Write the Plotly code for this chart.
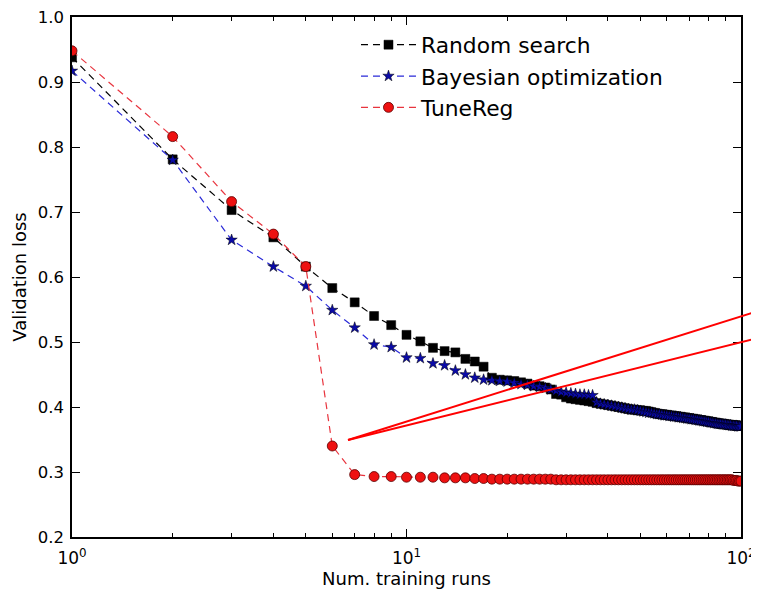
import plotly.graph_objects as go

runs = list(range(1, 101))

random_search = [
    0.938, 0.781, 0.703, 0.661, 0.616, 0.583, 0.561, 0.540, 0.526, 0.511,
    0.501, 0.491, 0.486, 0.484, 0.474, 0.470, 0.462, 0.445, 0.442, 0.441,
    0.440, 0.438, 0.436, 0.433, 0.432, 0.430, 0.427, 0.420, 0.419, 0.415,
    0.413, 0.412, 0.411, 0.410, 0.409, 0.408, 0.406, 0.405, 0.404, 0.403,
    0.402, 0.401, 0.400, 0.399, 0.398, 0.397, 0.396, 0.396, 0.395, 0.395,
    0.394, 0.394, 0.393, 0.392, 0.391, 0.390, 0.389, 0.389, 0.388, 0.388,
    0.387, 0.387, 0.386, 0.386, 0.385, 0.385, 0.384, 0.384, 0.383, 0.383,
    0.382, 0.382, 0.381, 0.381, 0.380, 0.380, 0.379, 0.379, 0.378, 0.378,
    0.377, 0.377, 0.376, 0.376, 0.375, 0.375, 0.374, 0.374, 0.374, 0.373,
    0.373, 0.373, 0.372, 0.372, 0.372, 0.372, 0.371, 0.371, 0.371, 0.371,
]

bayesian_opt = [
    0.917, 0.780, 0.657, 0.616, 0.586, 0.549, 0.522, 0.496, 0.492, 0.476,
    0.475, 0.467, 0.464, 0.456, 0.450, 0.445, 0.442, 0.441, 0.440, 0.439,
    0.437, 0.435, 0.434, 0.432, 0.431, 0.429, 0.427, 0.425, 0.423, 0.422,
    0.421, 0.420, 0.419, 0.419, 0.418, 0.418, 0.407, 0.405, 0.404, 0.403,
    0.402, 0.401, 0.400, 0.399, 0.398, 0.397, 0.396, 0.396, 0.395, 0.394,
    0.393, 0.392, 0.391, 0.391, 0.390, 0.389, 0.389, 0.388, 0.387, 0.387,
    0.386, 0.386, 0.385, 0.385, 0.384, 0.384, 0.383, 0.383, 0.382, 0.382,
    0.381, 0.381, 0.380, 0.380, 0.379, 0.379, 0.378, 0.378, 0.377, 0.377,
    0.376, 0.376, 0.375, 0.375, 0.374, 0.374, 0.374, 0.373, 0.373, 0.373,
    0.372, 0.372, 0.372, 0.371, 0.371, 0.371, 0.371, 0.370, 0.370, 0.370,
]

tunereg = [
    0.948, 0.816, 0.716, 0.666, 0.616, 0.340, 0.296, 0.293, 0.293, 0.292,
    0.292, 0.292, 0.291, 0.291, 0.291, 0.290, 0.290, 0.289, 0.289, 0.289,
    0.289, 0.289, 0.289, 0.289, 0.289, 0.289, 0.289, 0.288, 0.288, 0.288,
    0.288, 0.288, 0.288, 0.288, 0.288, 0.288, 0.288, 0.288, 0.288, 0.288,
    0.288, 0.288, 0.288, 0.288, 0.288, 0.288, 0.288, 0.288, 0.288, 0.288,
    0.288, 0.288, 0.288, 0.288, 0.288, 0.288, 0.288, 0.288, 0.288, 0.288,
    0.288, 0.288, 0.288, 0.288, 0.288, 0.288, 0.288, 0.288, 0.288, 0.288,
    0.288, 0.288, 0.288, 0.288, 0.288, 0.288, 0.288, 0.288, 0.288, 0.288,
    0.288, 0.288, 0.288, 0.288, 0.288, 0.288, 0.288, 0.288, 0.288, 0.288,
    0.288, 0.288, 0.288, 0.288, 0.287, 0.287, 0.287, 0.286, 0.286, 0.286,
]

x_tick_vals = [1, 10, 100]
x_tick_text = ["10<sup>0</sup>", "10<sup>1</sup>", "10<sup>2</sup>"]
y_tick_vals = [0.2, 0.3, 0.4, 0.5, 0.6, 0.7, 0.8, 0.9, 1.0]
y_tick_text = ["0.2", "0.3", "0.4", "0.5", "0.6", "0.7", "0.8", "0.9", "1.0"]
minor_x = [2, 3, 4, 5, 6, 7, 8, 9, 20, 30, 40, 50, 60, 70, 80, 90]

FONT = "DejaVu Sans"

fig = go.Figure()
fig.add_trace(go.Scatter(
    x=runs, y=random_search, name="Random search", mode="lines+markers",
    line=dict(color="#000000", width=1.2, dash="7px,5px"),
    marker=dict(symbol="square", size=9, color="#000000",
                line=dict(color="#000000", width=0.5)),
))
fig.add_trace(go.Scatter(
    x=runs, y=bayesian_opt, name="Bayesian optimization", mode="lines+markers",
    line=dict(color="#2a2ad8", width=1.2, dash="7px,5px"),
    marker=dict(symbol="star", size=8.5, color="#0a0aa8",
                line=dict(color="#000000", width=0.5)),
))
fig.add_trace(go.Scatter(
    x=runs, y=tunereg, name="TuneReg", mode="lines+markers",
    line=dict(color="#e8343e", width=1.2, dash="7px,5px"),
    marker=dict(symbol="circle", size=10, color="#ee1111",
                line=dict(color="#5a0000", width=0.8)),
))

# red annotation lines (paper coordinates, extending beyond the axes)
for y_end in (0.4365, 0.384):
    fig.add_shape(type="line", xref="paper", yref="paper",
                  x0=0.4126, y0=0.1865, x1=1.03, y1=y_end,
                  line=dict(color="#ff0000", width=2), layer="above")

# the page body adds an 8px offset, so the figure is 8px smaller
fig.update_layout(
    width=751, height=582,
    margin=dict(l=64, r=18, t=9, b=53),
    paper_bgcolor="white", plot_bgcolor="white",
    font=dict(family=FONT, color="#000000", size=16),
    showlegend=True,
    legend=dict(x=0.4245, y=0.9865, xanchor="left", yanchor="top",
                font=dict(size=21.8, family=FONT), bgcolor="rgba(0,0,0,0)",
                itemwidth=55, tracegroupgap=0),
    xaxis=dict(
        type="log", range=[0, 2], tickvals=x_tick_vals, ticktext=x_tick_text,
        ticks="inside", ticklen=8, tickwidth=1, tickcolor="#000000",
        showline=True, linecolor="#000000", linewidth=1.5, mirror="allticks",
        showgrid=False, zeroline=False, automargin=False,
        ticklabelstandoff=5, ticklabeloverflow="allow",
        minor=dict(tickvals=minor_x, ticks="inside", ticklen=4,
                   tickcolor="#000000", showgrid=False),
        title=dict(text="Num. training runs", font=dict(size=18), standoff=4),
        tickfont=dict(size=17),
    ),
    yaxis=dict(
        range=[0.2, 1.0], tickvals=y_tick_vals, ticktext=y_tick_text,
        ticks="inside", ticklen=8, tickwidth=1, tickcolor="#000000",
        showline=True, linecolor="#000000", linewidth=1.5, mirror="allticks",
        showgrid=False, zeroline=False, automargin=False,
        ticklabelstandoff=3, ticklabeloverflow="allow",
        title=dict(text="Validation loss", font=dict(size=18), standoff=6),
        tickfont=dict(size=16.5),
    ),
)

fig.write_html("out.html")
